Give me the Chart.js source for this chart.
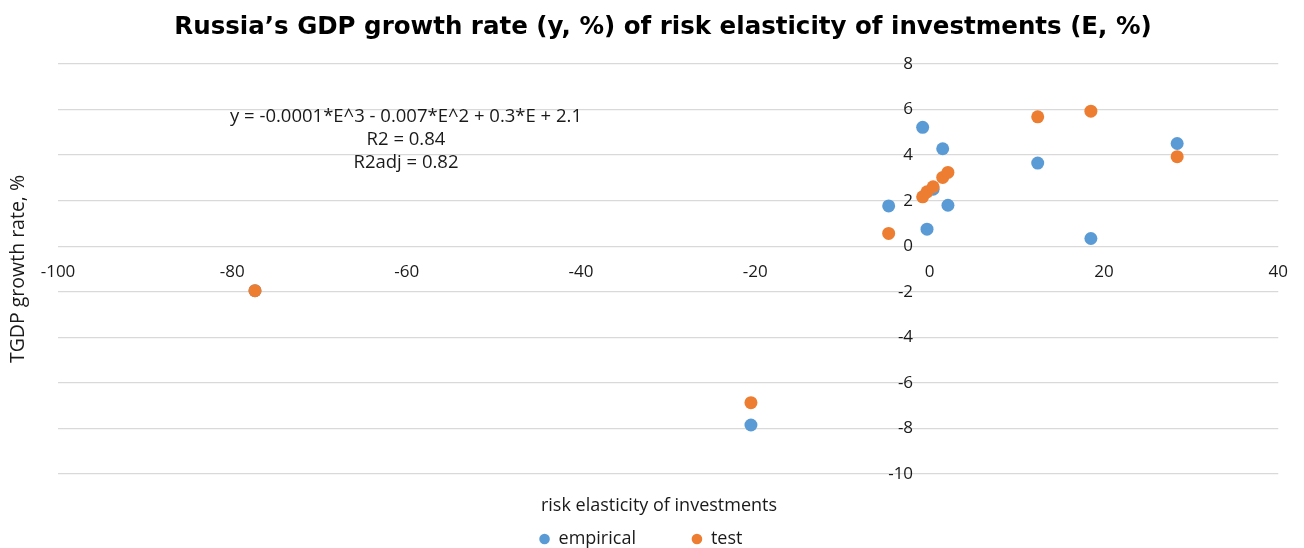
<!DOCTYPE html>
<html>
<head>
<meta charset="utf-8">
<script src="https://cdn.jsdelivr.net/npm/chart.js@4.4.0/dist/chart.umd.min.js"></script>
<style>
  html, body { margin: 0; padding: 0; background: #fff; }
</style>
</head>
<body>
<canvas id="riskChart" width="1304" height="548"></canvas>
<script>
// risk elasticity of investments, E (%)
const elasticity = [-77.4, -20.5, -4.7, -0.8, -0.3, 0.4, 1.5, 2.1, 12.4, 18.5, 28.4];
// GDP growth rate, y (%)
const gdpEmpirical = [-1.95, -7.85, 1.77, 5.22, 0.75, 2.5, 4.28, 1.8, 3.65, 0.34, 4.51];
const gdpTest = [-1.95, -6.87, 0.56, 2.17, 2.39, 2.61, 3.02, 3.24, 5.68, 5.93, 3.93];

const seriesNames = ['empirical', 'test'];
const seriesColors = ['#5b9bd5', '#ed7d31'];

const xMin = -100, xMax = 40, xStep = 20;
const yMin = -10, yMax = 8, yStep = 2;

const chartTitle = 'Russia\u2019s GDP growth rate (y, %) of risk elasticity of investments (E, %)';
const xTitle = 'risk elasticity of investments';
const yTitle = 'TGDP growth rate, %';
const fitLines = [
  'y = -0.0001*E^3 - 0.007*E^2 + 0.3*E + 2.1',
  'R2 = 0.84',
  'R2adj = 0.82'
];

Chart.defaults.font.family = "'Open Sans'";
Chart.defaults.color = '#1a1a1a';

function toPoints(ys) {
  return elasticity.map((e, i) => ({ x: e, y: ys[i] }));
}

// chart title, x axis title and the fitted equation box
const textPlugin = {
  id: 'chartTexts',
  afterDraw(chart) {
    const ctx = chart.ctx;
    ctx.save();
    ctx.textAlign = 'center';
    ctx.textBaseline = 'middle';

    ctx.fillStyle = '#000';
    ctx.font = "bold 24.5px 'DejaVu Sans'";
    ctx.fillText(chartTitle, 663, 27.5);

    ctx.fillStyle = '#1a1a1a';
    ctx.font = "18.5px 'Open Sans'";
    fitLines.forEach((t, i) => ctx.fillText(t, 406, 117 + i * 23));

    ctx.font = "18px 'Open Sans'";
    ctx.fillText(xTitle, 659, 506);
    ctx.restore();
  }
};

const ctx = document.getElementById('riskChart').getContext('2d');

const chart = new Chart(ctx, {
  type: 'scatter',
  data: {
    datasets: [
      {
        label: seriesNames[0],
        data: toPoints(gdpEmpirical),
        backgroundColor: seriesColors[0],
        borderColor: seriesColors[0],
        borderWidth: 0,
        pointRadius: 6.5,
        order: 1
      },
      {
        label: seriesNames[1],
        data: toPoints(gdpTest),
        backgroundColor: seriesColors[1],
        borderColor: seriesColors[1],
        borderWidth: 0,
        pointRadius: 6.5,
        order: 0
      }
    ]
  },
  options: {
    responsive: false,
    devicePixelRatio: 1,
    animation: false,
    layout: { padding: { left: 0, right: 22, top: 64, bottom: -10 } },
    plugins: {
      title: { display: false },
      legend: {
        position: 'bottom',
        labels: {
          usePointStyle: true,
          pointStyle: 'circle',
          boxWidth: 10,
          boxHeight: 7.5,
          padding: 56,
          font: { size: 18 },
          sort: (a, b) => a.datasetIndex - b.datasetIndex
        }
      },
      tooltip: { enabled: false }
    },
    scales: {
      x: {
        type: 'linear',
        position: { y: 0 },
        min: xMin,
        max: xMax,
        ticks: { stepSize: xStep, autoSkip: false, maxRotation: 0, padding: 16, font: { size: 17 } },
        grid: { display: false, drawTicks: false },
        border: { display: false }
      },
      y: {
        type: 'linear',
        position: { x: -1.9 },
        min: yMin,
        max: yMax,
        ticks: { stepSize: yStep, autoSkip: false, padding: 0, font: { size: 17 } },
        grid: { color: '#d9d9d9', lineWidth: 1.3, drawTicks: false },
        border: { display: false }
      },
      // left-hand strip that only carries the y axis title
      yLabel: {
        type: 'linear',
        axis: 'y',
        position: 'left',
        display: true,
        min: yMin,
        max: yMax,
        ticks: { display: false },
        grid: { display: false, drawTicks: false },
        border: { display: false },
        title: {
          display: true,
          text: yTitle,
          font: { size: 19.5 },
          padding: { top: 6.3, bottom: 28.3 }
        }
      }
    }
  },
  plugins: [textPlugin]
});
</script>
</body>
</html>
